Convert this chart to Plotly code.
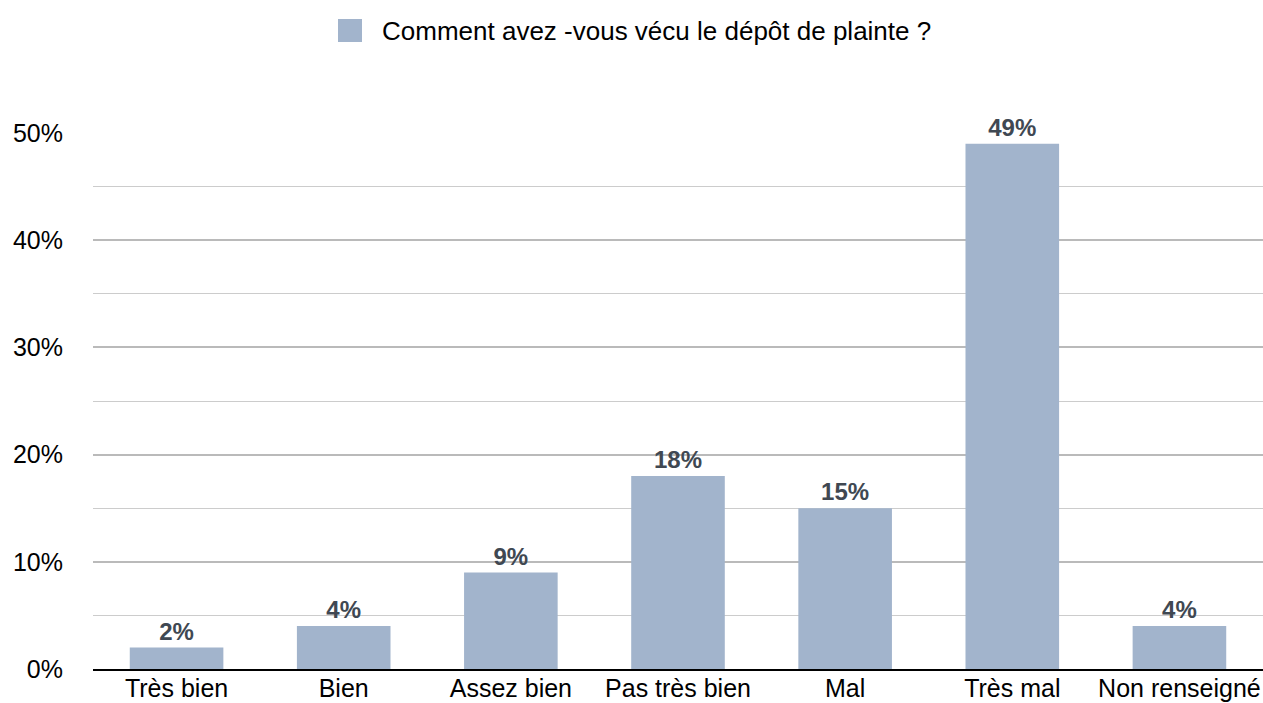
import plotly.graph_objects as go

categories = ["Très bien", "Bien", "Assez bien", "Pas très bien", "Mal", "Très mal", "Non renseigné"]
values = [2, 4, 9, 18, 15, 49, 4]
labels = [f"{v}%" for v in values]
series_name = "Comment avez -vous vécu le dépôt de plainte ?"
bar_color = "#a2b4cc"

FONT = "Liberation Sans, Arial, Helvetica, sans-serif"

W, H = 1263, 703
PL, PT, PW, PH = 93, 133, 1170, 536  # plot area in pixels

fig = go.Figure()
fig.add_trace(go.Bar(
    x=categories, y=values, name=series_name,
    marker=dict(color=bar_color, line=dict(width=0)),
    width=0.56,
    text=labels, textposition="outside", cliponaxis=False,
    textfont=dict(family=FONT, size=24, color="#404852", weight="bold"),
    showlegend=False,
))

# legend drawn as a square + text at the top centre
fig.add_shape(type="rect", xref="paper", yref="paper",
              x0=(338 - PL) / PW, x1=(362 - PL) / PW,
              y0=1 + (PT - 42) / PH, y1=1 + (PT - 19) / PH,
              fillcolor=bar_color, line=dict(width=0))
fig.add_annotation(text=series_name, xref="paper", yref="paper",
                   x=(380 - PL) / PW, y=1 + (PT - 31) / PH,
                   xanchor="left", yanchor="middle", showarrow=False,
                   font=dict(family=FONT, size=26, color="black"))

fig.update_layout(
    width=W, height=H,
    paper_bgcolor="white", plot_bgcolor="white",
    margin=dict(l=PL, r=W - PL - PW, t=PT, b=H - PT - PH),
    font=dict(family=FONT, size=25, color="black"),
    showlegend=False,
    bargap=0.44,
    xaxis=dict(showline=True, linecolor="black", linewidth=2, ticks="",
               tickfont=dict(size=25), showgrid=False, automargin=False,
               range=[-0.5, 6.5], ticklabelstandoff=-4),
    yaxis=dict(range=[0, 50], dtick=10, ticksuffix="%", showline=False,
               showgrid=True, gridcolor="#bababa", gridwidth=2,
               zeroline=False, ticks="", tickfont=dict(size=25), automargin=False,
               ticklabelstandoff=29,
               minor=dict(dtick=5, showgrid=True, gridcolor="#cccccc", gridwidth=1)),
)
fig.write_html(
    "out.html",
    config={"displayModeBar": False},
    post_script="document.body.style.margin='0';document.body.style.overflow='hidden';",
)
